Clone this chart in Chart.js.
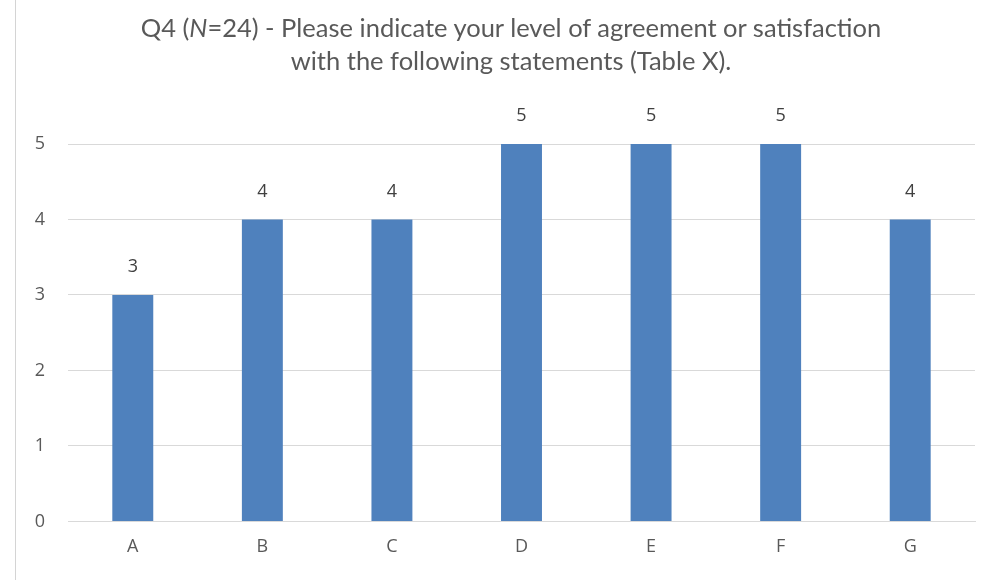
<!DOCTYPE html>
<html>
<head>
<meta charset="utf-8">
<script src="https://cdn.jsdelivr.net/npm/chart.js@4/dist/chart.umd.min.js"></script>
<style>
  html, body { margin: 0; padding: 0; background: #fff; }
  #wrap { position: relative; width: 982px; height: 580px; overflow: hidden; background: #fff; }
  #edge { position: absolute; left: 15px; top: 0; width: 1px; height: 580px; background: #d4d4d4; z-index: 2; }
  #title { position: absolute; left: 0; top: 11px; width: 1022px; text-align: center; z-index: 2;
           font-family: Lato, "Liberation Sans", sans-serif; font-size: 25.5px; line-height: 33px; color: #595959; }
  canvas { position: absolute; left: 0; top: 0; }
</style>
</head>
<body>
<div id="wrap">
  <canvas id="c" width="982" height="580"></canvas>
  <div id="edge"></div>
  <div id="title">Q4 (<i>N</i>=24) - Please indicate your level of agreement or satisfaction<br>with the following statements (Table X).</div>
</div>
<script>
const categories = ["A", "B", "C", "D", "E", "F", "G"];
const values = [3, 4, 4, 5, 5, 5, 4];
const yTicks = [0, 1, 2, 3, 4, 5];

const tickFont = { family: "'Open Sans', sans-serif", size: 18 };

const valueLabels = {
  id: "valueLabels",
  afterDatasetsDraw(chart) {
    const ctx = chart.ctx;
    const meta = chart.getDatasetMeta(0);
    ctx.save();
    ctx.font = "18px 'Open Sans', sans-serif";
    ctx.fillStyle = "#404040";
    ctx.textAlign = "center";
    ctx.textBaseline = "middle";
    meta.data.forEach((bar, i) => {
      ctx.fillText(String(values[i]), bar.x, bar.y - 28);
    });
    ctx.restore();
  }
};

new Chart(document.getElementById("c"), {
  type: "bar",
  data: {
    labels: categories,
    datasets: [{
      data: values,
      backgroundColor: "#4f81bd",
      borderWidth: 0,
      categoryPercentage: 1,
      barPercentage: 0.316
    }]
  },
  options: {
    responsive: false,
    animation: false,
    layout: { padding: { top: 144, right: 7, bottom: 7, left: 0 } },
    plugins: { legend: { display: false }, title: { display: false }, tooltip: { enabled: false } },
    scales: {
      x: {
        grid: { display: false, drawTicks: false },
        border: { display: true, color: "#d9d9d9", width: 1 },
        ticks: { color: "#595959", font: tickFont, padding: 15 }
      },
      y: {
        min: 0, max: 5,
        afterBuildTicks(scale) { scale.ticks = yTicks.map(v => ({ value: v })); },
        afterFit(scale) { scale.width = 68; },
        grid: { color: "#d9d9d9", drawTicks: false },
        border: { display: false },
        ticks: { color: "#595959", font: tickFont, padding: 23 }
      }
    }
  },
  plugins: [valueLabels]
});
</script>
</body>
</html>
